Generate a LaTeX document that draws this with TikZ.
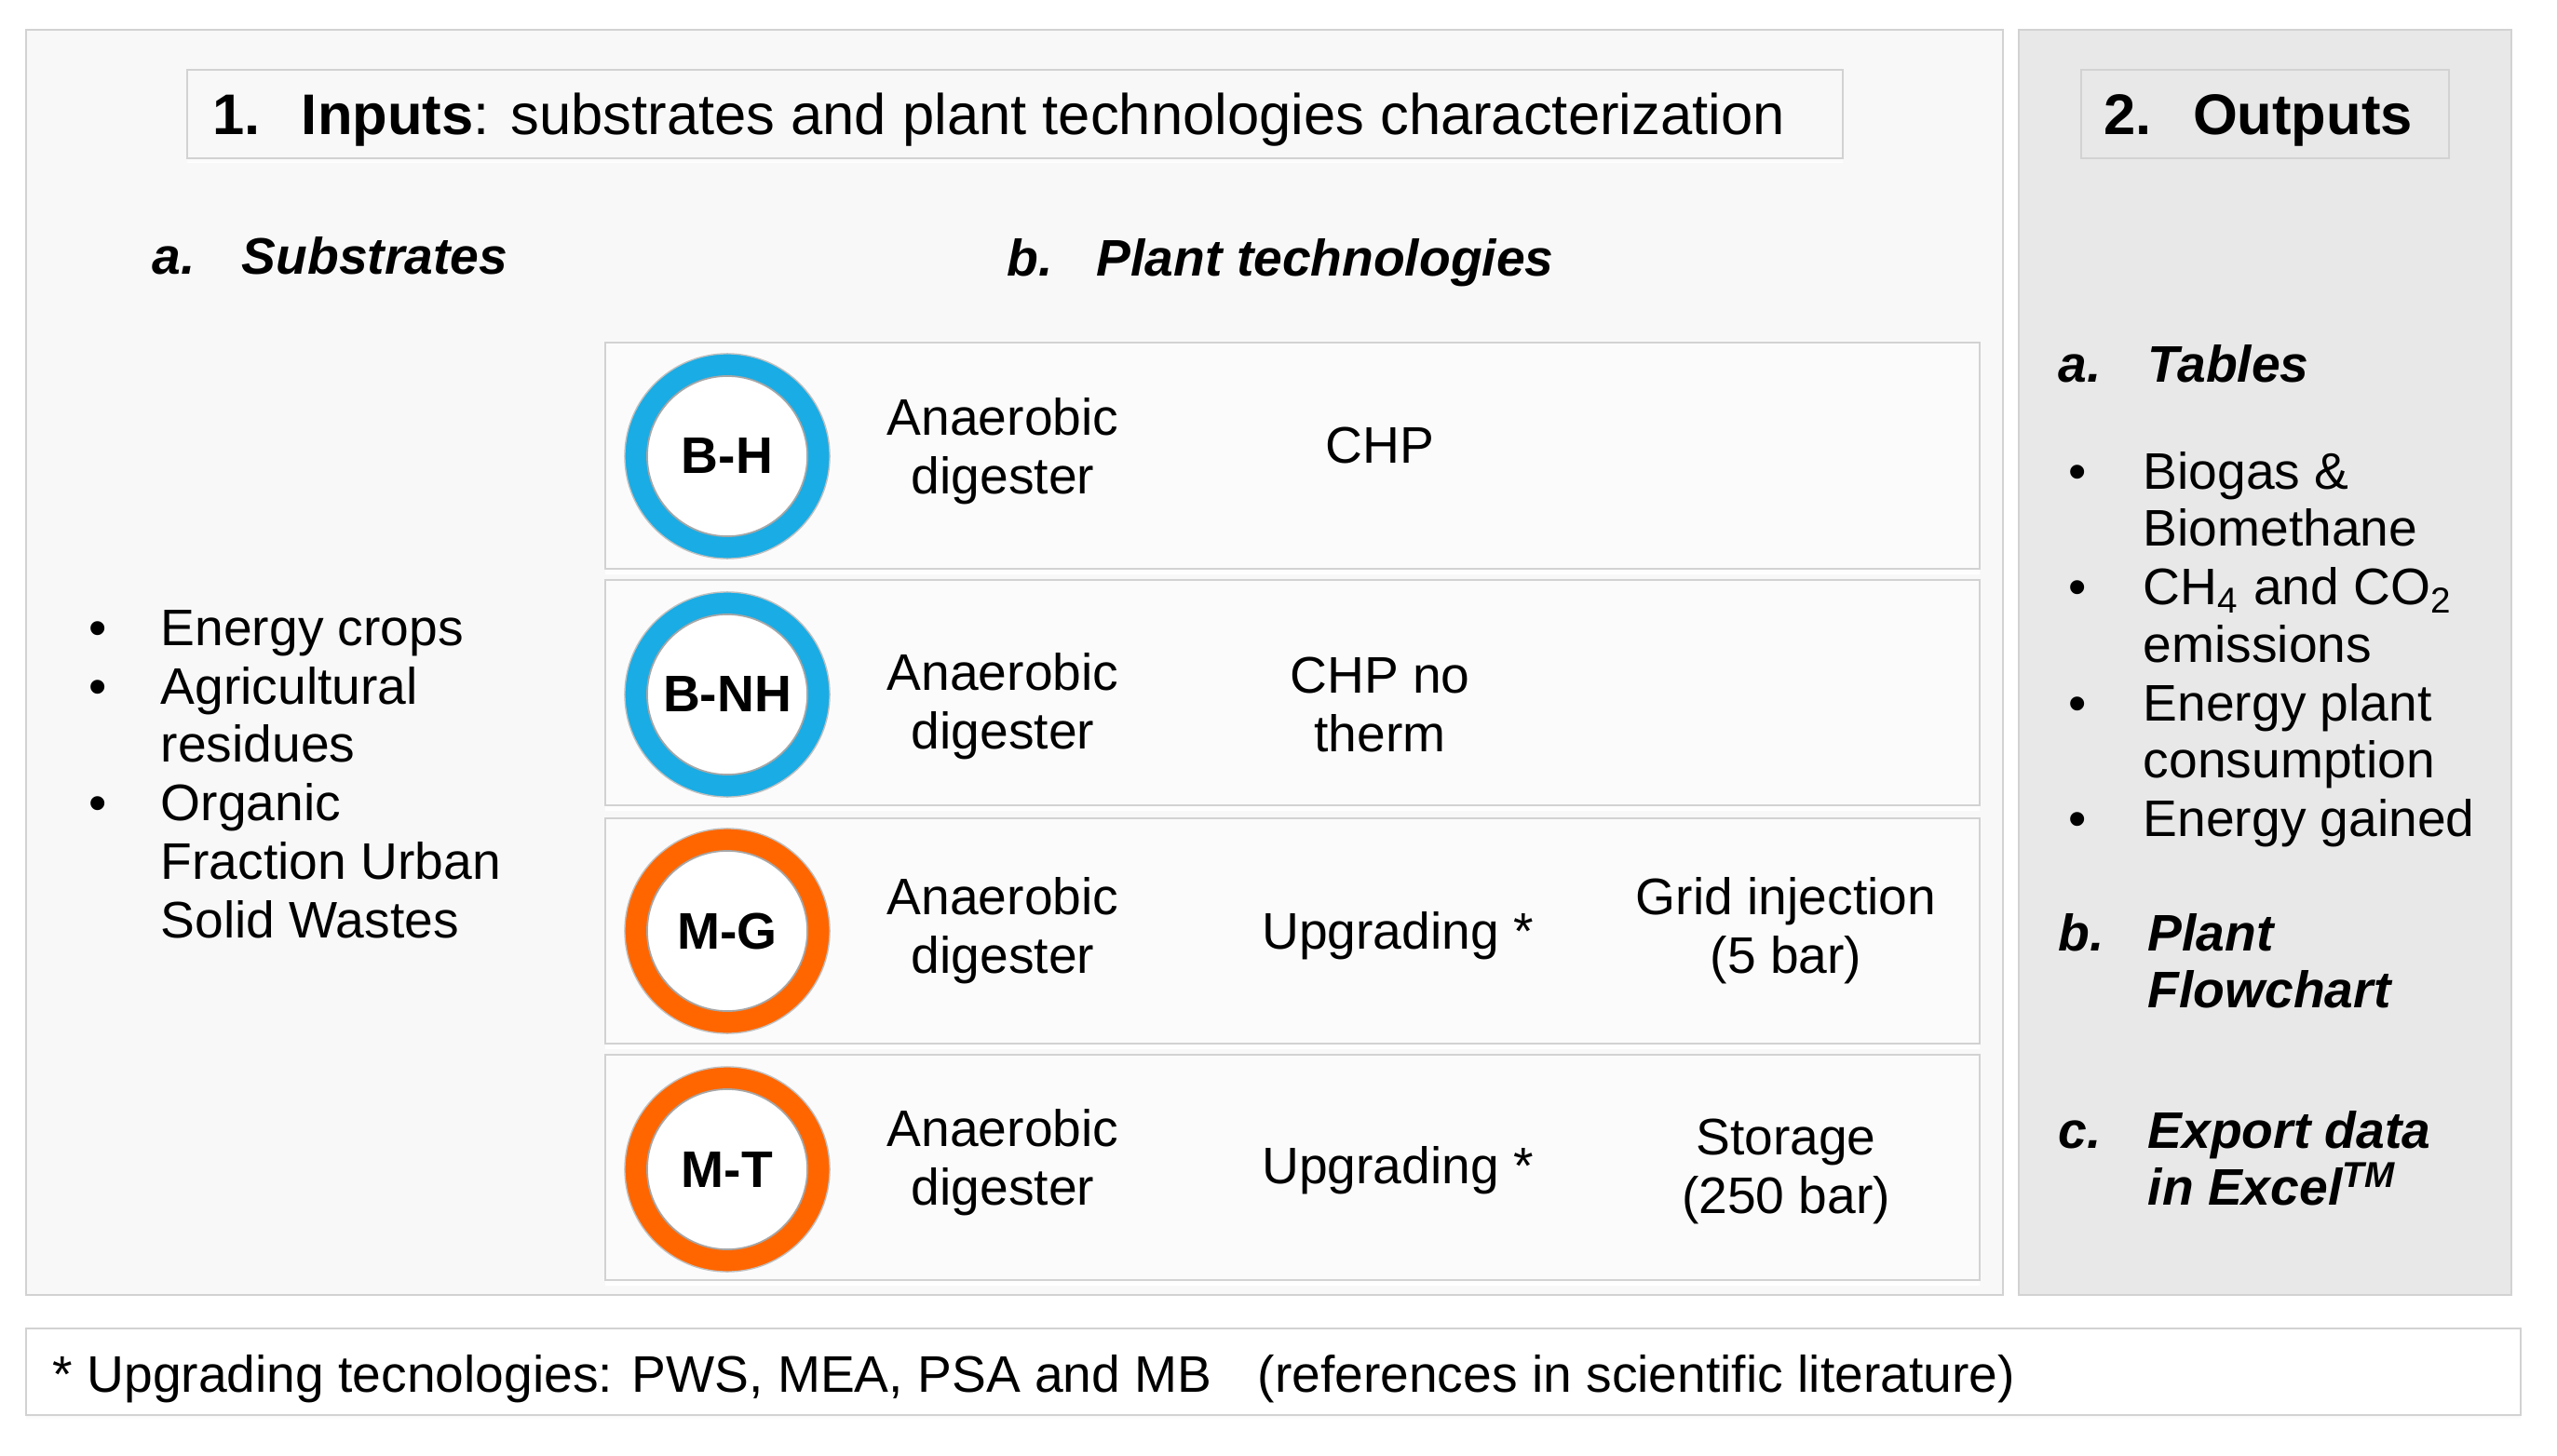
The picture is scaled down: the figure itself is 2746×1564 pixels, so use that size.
\documentclass[tikz,border=0pt]{standalone}
\usepackage{fontspec}
\setmainfont{Liberation Sans}
\definecolor{ringblue}{RGB}{26,172,228}
\definecolor{ringorange}{RGB}{255,102,0}
\definecolor{panelL}{RGB}{248,248,248}
\definecolor{rowfill}{RGB}{251,251,251}
\definecolor{panelR}{RGB}{232,232,232}
\definecolor{edge}{RGB}{210,210,210}
\definecolor{shade}{RGB}{220,220,220}
\newcommand\shbox[5]{%
  \fill[shade] (#1,#2+5) rectangle (#3,#4+5);
  \filldraw[fill=#5,draw=edge,line width=0.8pt] (#1,#2) rectangle (#3,#4);}
\begin{document}
\begin{tikzpicture}[x=0.01cm,y=-0.01cm,
  txt/.style={inner sep=0pt, font=\fontsize{15.7}{17.8}\selectfont},
  ttl/.style={inner sep=0pt, font=\fontsize{17.5}{20}\selectfont},
  lbl/.style={circle, inner sep=0pt, minimum size=1.96cm, line width=6.8pt, fill=white,
     font=\fontsize{15.7}{17.8}\selectfont\bfseries},
  ctr/.style={txt, anchor=base},
  lft/.style={txt, anchor=base west},
  bi/.style={lft, font=\fontsize{15.7}{17.8}\selectfont\bfseries\itshape}]
\useasboundingbox (0,0) rectangle (2746,1564);
\fill[white] (0,0) rectangle (2746,1564);
% panels
\shbox{28}{32}{2151}{1391}{panelL}
\shbox{2168}{32}{2697}{1391}{panelR}
\shbox{201}{75}{1979}{170}{panelL}
\filldraw[fill=panelR,draw=edge,line width=0.8pt] (2235,75) rectangle (2630,170);
\shbox{28}{1427}{2707}{1520}{white}
% titles
\node[ttl, anchor=base west] (t1) at (228,145) {\bfseries 1.\hspace{12.5pt}Inputs\mdseries: substrates and plant technologies characterization};
\node[ttl, anchor=base west] (t2) at (2259,145) {\bfseries 2.\hspace{12.5pt}Outputs};
% subheadings
\node[bi] (sa) at (163,295) {a.};
\node[bi] (sat) at (259,295) {Substrates};
\node[bi] (sb) at (1081,297) {b.};
\node[bi] (sbt) at (1177,297) {Plant technologies};
% substrates list
\node[ctr] (bl1) at (105,693) {•};
\node[lft] (s1) at (172,693) {Energy crops};
\node[ctr] (bl2) at (105,756) {•};
\node[lft] (s2) at (172,756) {Agricultural};
\node[lft] (s3) at (172,818) {residues};
\node[ctr] (bl3) at (105,881) {•};
\node[lft] (s4) at (172,881) {Organic};
\node[lft] (s5) at (172,944) {Fraction Urban};
\node[lft] (s6) at (172,1007) {Solid Wastes};
% rows
\shbox{650}{368}{2126}{611}{rowfill}
\shbox{650}{623}{2126}{865}{rowfill}
\shbox{650}{879}{2126}{1121}{rowfill}
\shbox{650}{1133}{2126}{1375}{rowfill}
% rings
\node[lbl, draw=ringblue] (bh) at (781,490) {B-H};
\node[lbl, draw=ringblue] (bnh) at (781,746) {B-NH};
\node[lbl, draw=ringorange] (mg) at (781,1000) {M-G};
\node[lbl, draw=ringorange] (mt) at (781,1256) {M-T};
\foreach \n in {bh,bnh,mg,mt}{
  \draw[gray!70, line width=0.5pt] (\n.center) circle (0.86cm);
  \draw[gray!50, line width=0.4pt] (\n.center) circle (1.1cm);}
% row 1
\node[ctr] (r1a) at (1077,467) {Anaerobic};
\node[ctr] (r1b) at (1077,530) {digester};
\node[ctr] (r1c) at (1482,497) {CHP};
% row 2
\node[ctr] (r2a) at (1077,741) {Anaerobic};
\node[ctr] (r2b) at (1077,804) {digester};
\node[ctr] (r2c) at (1482,744) {CHP no};
\node[ctr] (r2d) at (1482,807) {therm};
% row 3
\node[ctr] (r3a) at (1077,982) {Anaerobic};
\node[ctr] (r3b) at (1077,1045) {digester};
\node[ctr] (r3c) at (1501,1019) {Upgrading *};
\node[ctr] (r3d) at (1918,982) {Grid injection};
\node[ctr] (r3e) at (1918,1045) {(5 bar)};
% row 4
\node[ctr] (r4a) at (1077,1231) {Anaerobic};
\node[ctr] (r4b) at (1077,1294) {digester};
\node[ctr] (r4c) at (1501,1271) {Upgrading *};
\node[ctr] (r4d) at (1918,1240) {Storage};
\node[ctr] (r4e) at (1918,1303) {(250 bar)};
% outputs
\node[bi] (oa) at (2210,410) {a.};
\node[bi] (oat) at (2306,410) {Tables};
\node[ctr] (ob1) at (2231,525) {•};
\node[lft] (o1) at (2301,525) {Biogas \&};
\node[lft] (o2) at (2301,586) {Biomethane};
\node[ctr] (ob2) at (2231,649) {•};
\node[lft] (o3) at (2301,649) {CH\textsubscript{4} and CO\textsubscript{2}};
\node[lft] (o4) at (2301,711) {emissions};
\node[ctr] (ob3) at (2231,774) {•};
\node[lft] (o5) at (2301,774) {Energy plant};
\node[lft] (o6) at (2301,835) {consumption};
\node[ctr] (ob4) at (2231,898) {•};
\node[lft] (o7) at (2301,898) {Energy gained};
\node[bi] (obb) at (2210,1021) {b.};
\node[bi] (obt1) at (2306,1021) {Plant};
\node[bi] (obt2) at (2306,1082) {Flowchart};
\node[bi] (oc) at (2210,1233) {c.};
\node[bi] (oct1) at (2306,1233) {Export data};
\node[bi] (oct2) at (2306,1294) {in Excel\textsuperscript{TM}};
% footnote
\node[lft] (fn) at (56,1495) {* Upgrading tecnologies: PWS, MEA, PSA and MB\hspace{14pt}(references in scientific literature)};
\end{tikzpicture}
\end{document}
